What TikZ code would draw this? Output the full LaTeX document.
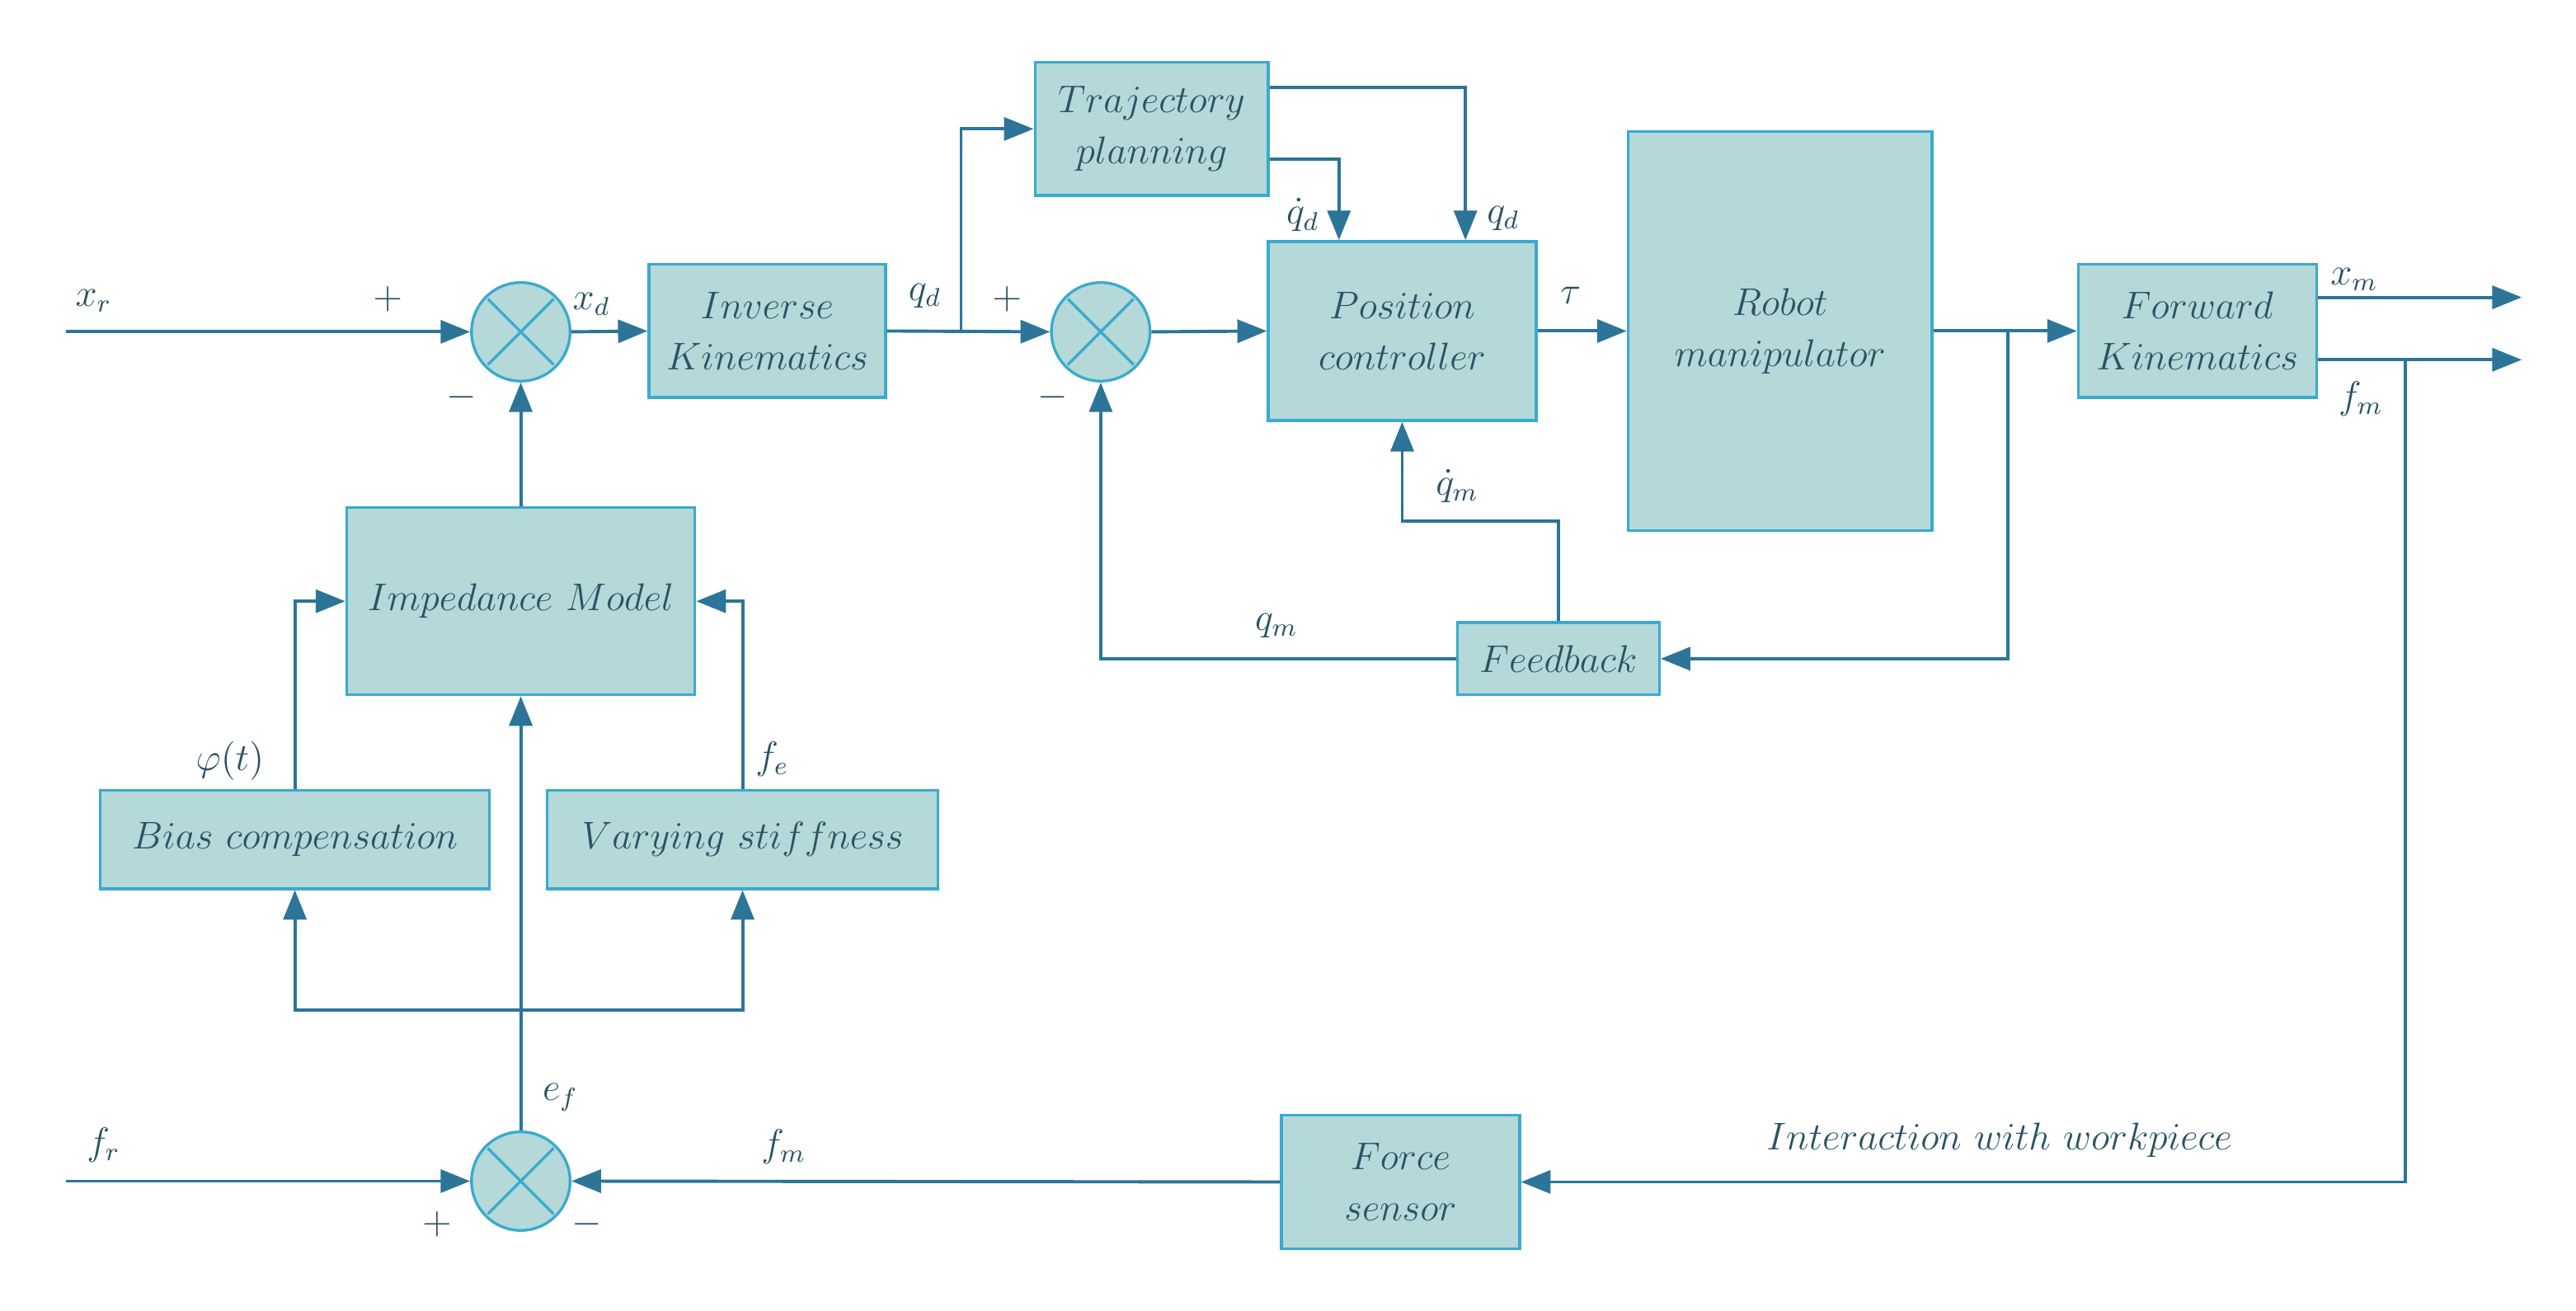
\documentclass[tikz,border=0pt]{standalone}
\usetikzlibrary{arrows.meta,calc}

\definecolor{boxfill}{HTML}{B4D9D8}
\definecolor{boxline}{HTML}{3AAACF}
\definecolor{wire}{HTML}{2C7599}
\definecolor{ink}{HTML}{2A5366}

% one drawing unit
\newcommand{\myu}{0.01791cm}

\tikzset{
  txt/.style={text=ink, font=\fontsize{12}{15.8}\selectfont},
  block/.style={txt, draw=boxline, fill=boxfill, line width=0.85pt,
    align=center, inner sep=0pt},
  sumnode/.style={circle, draw=boxline, fill=boxfill, line width=0.85pt,
    minimum size=60*\myu, inner sep=0pt,
    path picture={
      \draw[boxline, line width=0.85pt]
        ([shift={(-20*\myu,-20*\myu)}]path picture bounding box.center) --
        ([shift={(20*\myu,20*\myu)}]path picture bounding box.center)
        ([shift={(-20*\myu,20*\myu)}]path picture bounding box.center) --
        ([shift={(20*\myu,-20*\myu)}]path picture bounding box.center);
    }},
  arr/.style={draw=wire, line width=1.0pt,
    -{Triangle[length=18*\myu, width=14*\myu]}},
  lbl/.style={txt, inner sep=0pt},
}

\begin{document}
\begin{tikzpicture}[x=\myu, y=-\myu]
  \useasboundingbox (0,0) rectangle (1568,798);

  % blocks
  \node[block, minimum width=144*\myu, minimum height=81*\myu]  (ik)   at (467,201.5)   {$Inverse$\\$Kinematics$};
  \node[block, minimum width=142*\myu, minimum height=81*\myu]  (tp)   at (701,78.5)    {$Trajectory$\\$planning$};
  \node[block, minimum width=163*\myu, minimum height=109*\myu] (pc)   at (853.5,201.5) {$Position$\\$controller$};
  \node[block, minimum width=185*\myu, minimum height=243*\myu] (rob)  at (1083.5,201.5){$Robot$\\$manipulator$};
  \node[block, minimum width=145*\myu, minimum height=81*\myu]  (fk)   at (1337.5,201.5){$Forward$\\$Kinematics$};
  \node[block, minimum width=123*\myu, minimum height=44*\myu]  (fb)   at (948.5,401)   {$Feedback$};
  \node[block, minimum width=212*\myu, minimum height=114*\myu] (im)   at (317,366)     {$Impedance\ Model$};
  \node[block, minimum width=237*\myu, minimum height=60*\myu]  (bias) at (179.5,511)   {$Bias\ compensation$};
  \node[block, minimum width=238*\myu, minimum height=60*\myu]  (vary) at (452,511)     {$Varying\ stiffness$};
  \node[block, minimum width=145*\myu, minimum height=81*\myu]  (fs)   at (852.5,719.5) {$Force$\\$sensor$};

  % summing junctions
  \node[sumnode] (s1) at (317,202) {};
  \node[sumnode] (s2) at (670,202) {};
  \node[sumnode] (s3) at (317,719) {};

  % free ends and branch points
  \coordinate (xin)  at (40,202);
  \coordinate (fin)  at (40,719);
  \coordinate (br1)  at (585,202);
  \coordinate (br2)  at (1222,201.5);
  \coordinate (br3)  at (1464,219);
  \coordinate (out1) at (1535,181);
  \coordinate (out2) at (1535,219);
  \coordinate (jn)   at (317,615);

  % position loop
  \draw[arr] (xin) -- (s1.west);
  \draw[arr] (s1.east) -- (ik.west);
  \draw[arr] (ik.east) -- (s2.west);
  \draw[arr] (br1) |- (tp.west);
  \draw[arr] ([yshift=25.5*\myu]tp.east) -| ([xshift=38.5*\myu]pc.north);
  \draw[arr] ([yshift=-18.5*\myu]tp.east) -| ([xshift=-38.5*\myu]pc.north);
  \draw[arr] (s2.east) -- (pc.west);
  \draw[arr] (pc.east) -- (rob.west);
  \draw[arr] (rob.east) -- (fk.west);
  \draw[arr] (br2) |- (fb.east);
  \draw[arr] (fb.north) -- ++(0,-61) -| (pc.south);
  \draw[arr] (fb.west) -| (s2.south);
  \draw[arr] (fk.east |- out1) -- (out1);
  \draw[arr] (fk.east |- out2) -- (out2);

  % force loop
  \draw[arr] (br3) |- (fs.east);
  \draw[arr] (fs.west) -- (s3.east);
  \draw[arr] (fin) -- (s3.west);
  \draw[arr] (s3.north) -- (im.south);
  \draw[arr] (im.north) -- (s1.south);
  \draw[arr] (jn) -| (bias.south);
  \draw[arr] (jn) -| (vary.south);
  \draw[arr] (bias.north) |- (im.west);
  \draw[arr] (vary.north) |- (im.east);

  % signal labels and signs
  \node[lbl] at (57,183)   {$x_r$};
  \node[lbl] at (236,182)  {$+$};
  \node[lbl] at (281,242)  {$-$};
  \node[lbl] at (360,185)  {$x_d$};
  \node[lbl] at (563,180)  {$q_d$};
  \node[lbl] at (613,182)  {$+$};
  \node[lbl] at (641,242)  {$-$};
  \node[lbl] at (793,131)  {$\dot{q}_d$};
  \node[lbl] at (915,133)  {$q_d$};
  \node[lbl] at (956,180)  {$\tau$};
  \node[lbl] at (1433,170) {$x_m$};
  \node[lbl] at (1437,243) {$f_m$};
  \node[lbl] at (887,296)  {$\dot{q}_m$};
  \node[lbl] at (777,381)  {$q_m$};
  \node[lbl] at (140,463)  {$\varphi(t)$};
  \node[lbl] at (470,462)  {$f_e$};
  \node[lbl] at (341,668)  {$e_f$};
  \node[lbl] at (477,698)  {$f_m$};
  \node[lbl] at (63,697)   {$f_r$};
  \node[lbl] at (266,745)  {$+$};
  \node[lbl] at (357,745)  {$-$};
  \node[lbl] at (1217,694) {$Interaction\ with\ workpiece$};
\end{tikzpicture}
\end{document}
